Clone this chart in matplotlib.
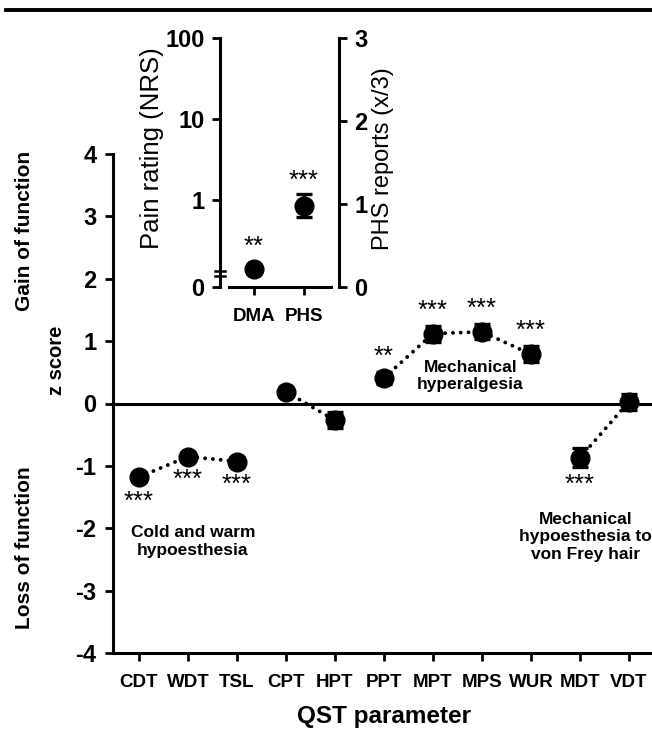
import matplotlib
matplotlib.use("Agg")
import matplotlib.pyplot as plt
from matplotlib.lines import Line2D
import numpy as np

plt.rcParams['font.family'] = ['Liberation Sans', 'DejaVu Sans']

# ---------------- data ----------------
categories = ['CDT', 'WDT', 'TSL', 'CPT', 'HPT', 'PPT', 'MPT', 'MPS', 'WUR', 'MDT', 'VDT']
z_scores = [-1.18, -0.85, -0.93, 0.19, -0.27, 0.41, 1.12, 1.15, 0.79, -0.87, 0.03]
z_errors = [0.06, 0.05, 0.05, 0.04, 0.13, 0.09, 0.13, 0.12, 0.13, 0.15, 0.13]
groups = [(0, 3), (3, 5), (5, 9), (9, 11)]
stars = ['***', '***', '***', '', '', '**', '***', '***', '***', '***', '']
star_side = [-1, -1, -1, 0, 0, 1, 1, 1, 1, -1, 0]
y_ticks = [-4, -3, -2, -1, 0, 1, 2, 3, 4]

inset_categories = ['DMA', 'PHS']
dma_pain = 0.14          # NRS (log axis)
phs_reports = 0.98       # x/3 (right axis)
phs_error = 0.14
inset_stars = ['**', '***']
pain_ticks = [1, 10, 100]
phs_ticks = [0, 1, 2, 3]

W, H = 652, 734
fig = plt.figure(figsize=(W / 100, H / 100), dpi=100)

def fx(px):
    return px / W

def fy(py):
    return 1 - py / H

MS = 13.5
TICKFS = 17
XTICKFS = 13.5
STARFS = 18.5

# ---------------- main axes ----------------
ax = fig.add_axes([fx(113), fy(653), fx(652) - fx(113), fy(154) - fy(653)])
x = np.arange(len(categories))
ax.set_xlim(-0.53, 10.47)
ax.set_ylim(-4, 4)

for a, b in groups:
    ax.plot(x[a:b], z_scores[a:b], linestyle=(0, (0.01, 2.0)), color='black',
            lw=2.8, dash_capstyle='round', zorder=2)
ax.errorbar(x, z_scores, yerr=z_errors, fmt='o', color='black', ms=MS,
            capsize=6, capthick=2.4, elinewidth=2.2, zorder=3)
ax.axhline(0, color='black', lw=2.2, zorder=1)

for spine in ['top', 'right']:
    ax.spines[spine].set_visible(False)
for spine in ['left', 'bottom']:
    ax.spines[spine].set_linewidth(2.2)
ax.set_xticks(x)
ax.set_xticklabels(categories, fontsize=XTICKFS, fontweight='bold')
ax.set_yticks(y_ticks)
ax.set_yticklabels([str(t) for t in y_ticks], fontsize=TICKFS, fontweight='bold')
ax.tick_params(axis='both', direction='out', length=6, width=2.0)
ax.tick_params(axis='x', pad=9)
ax.tick_params(axis='y', pad=6)

star_offsets = [25, 23, 23, 0, 0, 21, 23, 23, 23, 27, 0]
for i, s in enumerate(stars):
    if s:
        ax.annotate(s, (x[i], z_scores[i]), xytext=(0, star_side[i] * star_offsets[i] * 0.72),
                    textcoords='offset points', ha='center', va='center',
                    fontsize=STARFS, fontweight='normal')

ax.text(1.10, -2.21, 'Cold and warm\nhypoesthesia', ha='center', va='center',
        fontsize=12.5, fontweight='bold', linespacing=1.2)
ax.text(6.76, 0.44, 'Mechanical\nhyperalgesia', ha='center', va='center',
        fontsize=12.5, fontweight='bold', linespacing=1.2)
ax.text(9.12, -2.14, 'Mechanical\nhypoesthesia to\nvon Frey hair', ha='center', va='center',
        fontsize=12.5, fontweight='bold', linespacing=1.2)

fig.text(fx(384), fy(716), 'QST parameter', ha='center', va='center',
         fontsize=17.5, fontweight='bold')
fig.text(fx(56), fy(360), 'z score', ha='center', va='center', rotation=90,
         fontsize=14.5, fontweight='bold')
fig.text(fx(25), fy(231), 'Gain of function', ha='center', va='center', rotation=90,
         fontsize=15, fontweight='bold')
fig.text(fx(25), fy(548), 'Loss of function', ha='center', va='center', rotation=90,
         fontsize=15, fontweight='bold')

# header rule
fig.add_artist(Line2D([fx(6), 1], [fy(10), fy(10)], color='black', lw=2.8))

# ---------------- inset ----------------
axl = fig.add_axes([fx(220), fy(287), fx(339) - fx(220), fy(38) - fy(287)])
axl.set_yscale('log')
pain_bottom = 10 ** (-87 / 81)
axl.set_ylim(pain_bottom, 100)
axl.set_xlim(-0.68, 1.70)
axl.set_facecolor('none')
axr = axl.twinx()
axr.set_ylim(0, 3)

axl.plot([0], [dma_pain], 'o', color='black', ms=MS, zorder=3)
axr.errorbar([1], [phs_reports], yerr=[phs_error], fmt='o', color='black', ms=MS,
             capsize=6, capthick=2.4, elinewidth=2.2, zorder=3)
axl.annotate(inset_stars[0], (0, dma_pain), xytext=(0, 22 * 0.72), textcoords='offset points',
             ha='center', va='center', fontsize=STARFS)
axr.annotate(inset_stars[1], (1, phs_reports), xytext=(0, 25 * 0.72), textcoords='offset points',
             ha='center', va='center', fontsize=STARFS)

for a in (axl, axr):
    a.spines['top'].set_visible(False)
    for s in a.spines.values():
        s.set_linewidth(2.2)
axl.spines['right'].set_visible(False)
axr.spines['left'].set_visible(False)
axr.spines['bottom'].set_visible(False)
axl.spines['bottom'].set_bounds(-0.5, 1.54)

axl.set_yticks([pain_bottom] + pain_ticks)
axl.set_yticklabels(['0'] + [str(t) for t in pain_ticks], fontsize=TICKFS, fontweight='bold')
axl.yaxis.set_minor_locator(matplotlib.ticker.NullLocator())
axl.set_xticks([0, 1])
axl.set_xticklabels(inset_categories, fontsize=XTICKFS, fontweight='bold')
axl.tick_params(axis='both', direction='out', length=6, width=2.0)
axl.tick_params(axis='x', pad=9)
axl.tick_params(axis='y', pad=5)
axr.set_yticks(phs_ticks)
axr.set_yticklabels([str(t) for t in phs_ticks], fontsize=TICKFS, fontweight='bold')
axr.tick_params(axis='y', direction='out', length=6, width=2.0, pad=5)

fig.text(fx(152), fy(148), 'Pain rating (NRS)', ha='center', va='center', rotation=90,
         fontsize=18.5, fontweight='normal')
fig.text(fx(383), fy(159), 'PHS reports (x/3)', ha='center', va='center', rotation=90,
         fontsize=17, fontweight='normal')

# axis break marks on left inset spine
for yb in (271, 276):
    fig.add_artist(Line2D([fx(215), fx(225)], [fy(yb), fy(yb)], color='black', lw=1.8))

fig.savefig('out.png', dpi=100)
